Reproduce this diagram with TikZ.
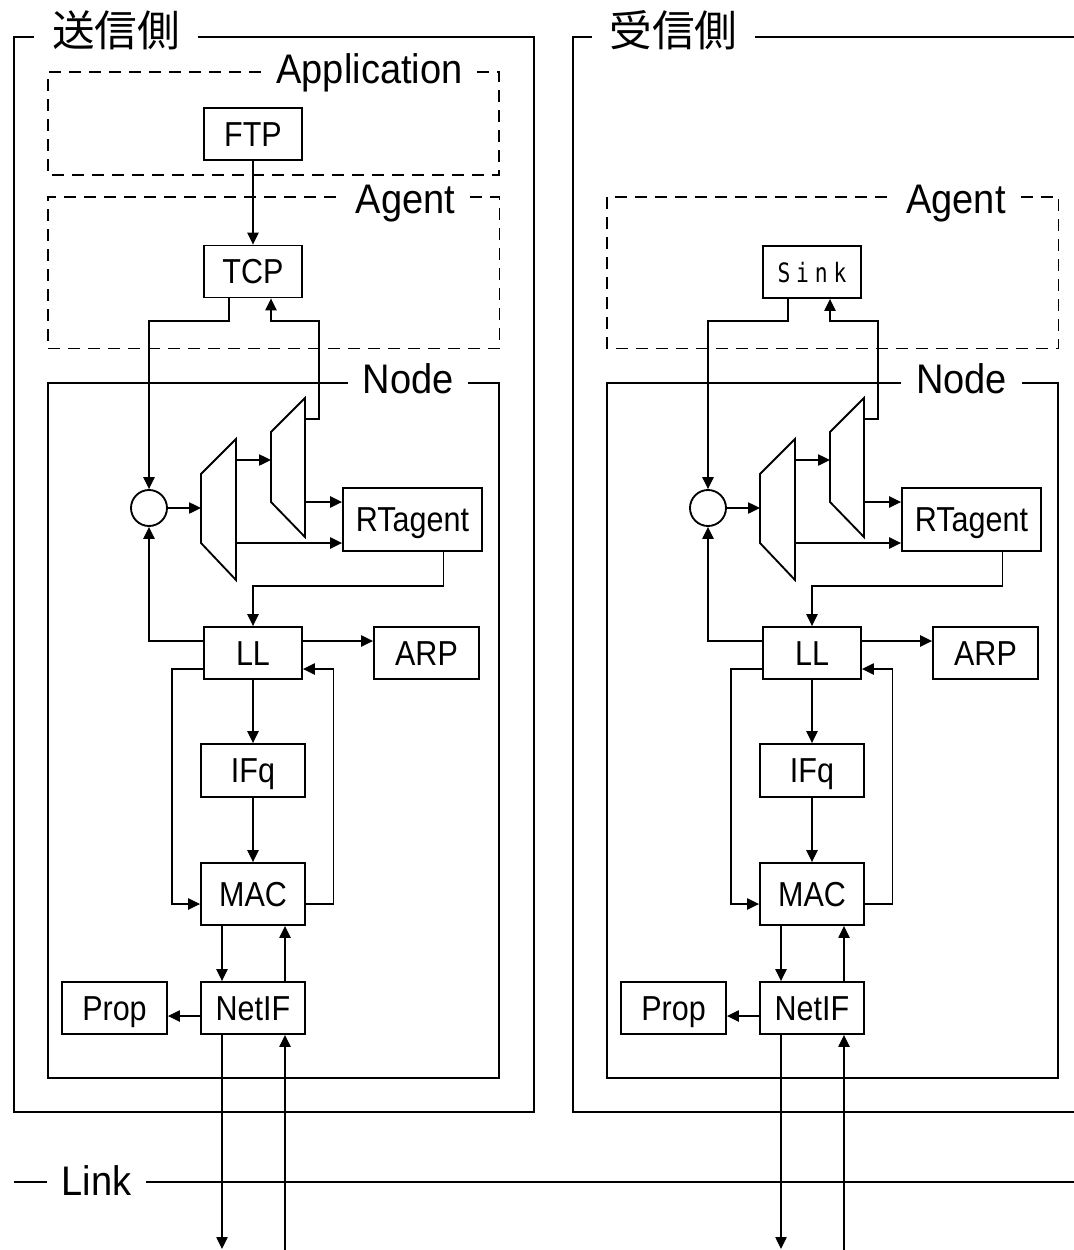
\documentclass[tikz,border=0pt]{standalone}
\usepackage{fontspec}
\setmainfont{Liberation Sans}
\newfontfamily\boxfont[FakeStretch=0.88]{Liberation Sans}
\newfontfamily\tagfont[FakeStretch=0.92]{Liberation Sans}
\newfontfamily\jpfont{Noto Sans CJK JP}
\newfontfamily\sinkfont[FakeStretch=0.8,LetterSpace=22]{DejaVu Sans Mono}
\usetikzlibrary{arrows.meta}
\tikzstyle{block} = [draw, rectangle, line width=1.4pt, inner sep=0pt, minimum width=73.5pt, minimum height=39pt, text height=18.6pt, text depth=0pt, font=\boxfont\fontsize{26}{28}\selectfont]
\tikzstyle{wide} = [minimum width=78pt]
\tikzstyle{tag} = [inner sep=0pt, inner xsep=11pt, anchor=base, font=\tagfont\fontsize{31}{34}\selectfont]
\tikzstyle{sidetag} = [inner sep=0pt, inner xsep=13pt, anchor=base, font=\jpfont\fontsize{32}{36}\selectfont]
\tikzstyle{boxline} = [line width=1.4pt]
\tikzstyle{dboxline} = [line width=1.4pt, dash pattern=on 9pt off 6pt]
\tikzstyle{arrow} = [line width=1pt, -{Triangle[length=9pt,width=8.5pt]}]
\begin{document}
\begin{tikzpicture}[x=0.75pt, y=-0.75pt]
\useasboundingbox (0,0) rectangle (1074,1250);
\clip (0,0) rectangle (1074,1250);

% sender / receiver frames
\node[sidetag] (ttlS) at (116,46) {送信側};
\node[sidetag] (ttlR) at (673.5,46) {受信側};
\draw[boxline] (ttlS.east |- 0,37) -- (534,37) -- (534,1112) -- (14,1112) -- (14,37) -- (ttlS.west |- 0,37);
\draw[boxline] (ttlR.east |- 0,37) -- (1090,37);
\draw[boxline] (1090,1112) -- (573,1112) -- (573,37) -- (ttlR.west |- 0,37);

% application (sender only)
\node[tag] (appl) at (369.5,83) {Application};
\draw[dboxline] (appl.east |- 0,72) -| (499,175) -| (48,72) -- (appl.west |- 0,72);

\node[block] (FTP) at (253,134) {FTP};
\node[block] (TCP) at (253,271.5) {TCP};
\node[block, text height=15pt] (Sink) at (812,272) {\sinkfont\fontsize{20}{22}\selectfont Sink};
\draw[arrow] (FTP) -- (TCP);

\foreach \s/\dx/\ax/\nx/\agent in {l/0/405.5/408/TCP, r/559/397/402.5/Sink} {
\begin{scope}[shift={(\dx,0)}]
  % agent and node frames
  \node[tag] (\s-aglbl) at (\ax,213) {Agent};
  \draw[dboxline] (\s-aglbl.east |- 0,197) -| (499.5,348.5) -| (48,197) -- (\s-aglbl.west |- 0,197);
  \node[tag] (\s-ndlbl) at (\nx,393) {Node};
  \draw[boxline] (\s-ndlbl.east |- 0,383) -| (499,1078) -| (48,383) -- (\s-ndlbl.west |- 0,383);

  % blocks
  \node[block, minimum width=104.25pt, minimum height=47.25pt] (\s-RT) at (412.5,519.5) {RTagent};
  \node[block] (\s-LL) at (253,653) {LL};
  \node[block, minimum width=78.75pt] (\s-ARP) at (426.5,653) {ARP};
  \node[block, wide, minimum height=39.75pt] (\s-IFq) at (253,770.5) {IFq};
  \node[block, wide, minimum height=46.5pt] (\s-MAC) at (253,894) {MAC};
  \node[block, wide] (\s-NetIF) at (253,1008) {NetIF};
  \node[block, minimum width=78.75pt] (\s-Prop) at (114.5,1008) {Prop};
  \node[draw, circle, line width=1.4pt, minimum size=27pt, inner sep=0pt] (\s-circ) at (149,508) {};

  % demultiplexers
  \draw[boxline] (201,474) -- (236,439) -- (236,580) -- (201,543) -- cycle;
  \draw[boxline] (271,432) -- (305,398) -- (305,537) -- (271,502) -- cycle;
  \coordinate (\s-aIn) at (201,508);
  \coordinate (\s-aUp) at (236,460);
  \coordinate (\s-aLo) at (236,543);
  \coordinate (\s-bIn) at (271,460);
  \coordinate (\s-bTop) at (305,419);
  \coordinate (\s-bLo) at (305,502);

  \draw[arrow] (\s-circ) -- (\s-aIn);
  \draw[arrow] (\s-aUp) -- (\s-bIn);
  \draw[arrow] (\s-bLo) -- (\s-bLo -| \s-RT.west);
  \draw[arrow] (\s-aLo) -- (\s-aLo -| \s-RT.west);
  \draw[arrow] (\s-bTop) -- (319,419) -- (319,321) -| ([xshift=13.5pt]\agent.south);
  \draw[arrow] ([xshift=-18pt]\agent.south) |- (149,321) -- (\s-circ);
  \draw[arrow] ([xshift=23pt]\s-RT.south) |- (253,586) -- (\s-LL.north);

  % link layer
  \coordinate (\s-llW) at ([yshift=9pt]\s-LL.west);
  \coordinate (\s-llE) at ([yshift=9pt]\s-LL.east);
  \draw[arrow] (\s-llW) -| (\s-circ);
  \draw[arrow] (\s-llE) -- (\s-llE -| \s-ARP.west);
  \draw[arrow] ([yshift=-12pt]\s-LL.west) -| ([xshift=-21pt, yshift=-7.5pt]\s-MAC.west) -- ([yshift=-7.5pt]\s-MAC.west);
  \draw[arrow] ([yshift=-7.5pt]\s-MAC.east) -| ([xshift=23pt, yshift=-12pt]\s-LL.east) -- ([yshift=-12pt]\s-LL.east);
  \draw[arrow] (\s-LL) -- (\s-IFq);
  \draw[arrow] (\s-IFq) -- (\s-MAC);
  \draw[arrow] ([xshift=-23.25pt]\s-MAC.south) -- ([xshift=-23.25pt]\s-NetIF.north);
  \draw[arrow] ([xshift=24pt]\s-NetIF.north) -- ([xshift=24pt]\s-MAC.south);
  \coordinate (\s-nfW) at ([yshift=-6pt]\s-NetIF.west);
  \draw[arrow] (\s-nfW) -- (\s-nfW -| \s-Prop.east);

  % to and from the link
  \coordinate (\s-out) at (222,1249);
  \coordinate (\s-in) at (285,1252);
  \draw[arrow] ([xshift=-23.25pt]\s-NetIF.south) -- (\s-out);
  \draw[arrow] (\s-in) -- ([xshift=24pt]\s-NetIF.south);
\end{scope}
}

% link
\node[tag] (link) at (96.5,1195) {Link};
\coordinate (linkL) at (14,1182);
\coordinate (linkR) at (1090,1182);
\draw[boxline] (linkL) -- (link.west |- linkL);
\draw[boxline] (link.east |- linkR) -- (linkR);
\end{tikzpicture}
\end{document}
